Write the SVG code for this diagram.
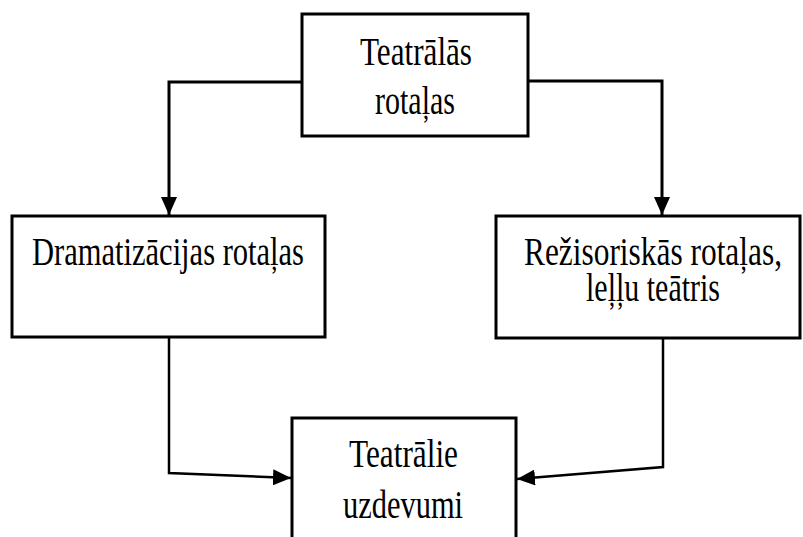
<svg xmlns="http://www.w3.org/2000/svg" width="803" height="537" viewBox="0 0 803 537">
<style>
.box{fill:#fff;stroke:#000;stroke-width:3}
.t{font-family:"Liberation Serif","Times New Roman",serif;font-size:40px;fill:#000}
.c{fill:none;stroke:#000;stroke-width:3}
.c2{fill:none;stroke:#000;stroke-width:2.5}
</style>
<defs>
<marker id="ah" markerWidth="18" markerHeight="16" refX="18" refY="8" orient="auto" markerUnits="userSpaceOnUse">
<path d="M0,0 L18,8 L0,16 Z" fill="#000"/>
</marker>
</defs>
<rect width="803" height="537" fill="#fff"/>
<g id="connectors">
<polyline class="c" points="302,82 169,82 169,215" marker-end="url(#ah)"/>
<polyline class="c" points="528,81 662,81 662,215" marker-end="url(#ah)"/>
<polyline class="c2" points="169,338 169,473 291,478" marker-end="url(#ah)"/>
<polyline class="c2" points="663,339 663,467 517,479" marker-end="url(#ah)"/>
</g>
<g id="n1">
<rect class="box" x="302" y="14" width="226" height="122"/>
<text class="t" x="360" y="65" textLength="112" lengthAdjust="spacingAndGlyphs">Teatrālās</text>
<text class="t" x="375" y="114" textLength="80" lengthAdjust="spacingAndGlyphs">rotaļas</text>
</g>
<g id="n2">
<rect class="box" x="12" y="216" width="313" height="121"/>
<text class="t" x="32" y="265" textLength="272" lengthAdjust="spacingAndGlyphs">Dramatizācijas rotaļas</text>
</g>
<g id="n3">
<rect class="box" x="496" y="216" width="304" height="122"/>
<text class="t" x="524" y="265" textLength="258" lengthAdjust="spacingAndGlyphs">Režisoriskās rotaļas,</text>
<text class="t" x="586" y="301" textLength="134" lengthAdjust="spacingAndGlyphs">leļļu teātris</text>
</g>
<g id="n4">
<rect class="box" x="292" y="418" width="224" height="140"/>
<text class="t" x="349" y="467" textLength="109" lengthAdjust="spacingAndGlyphs">Teatrālie</text>
<text class="t" x="343" y="518" textLength="120" lengthAdjust="spacingAndGlyphs">uzdevumi</text>
</g>
</svg>
